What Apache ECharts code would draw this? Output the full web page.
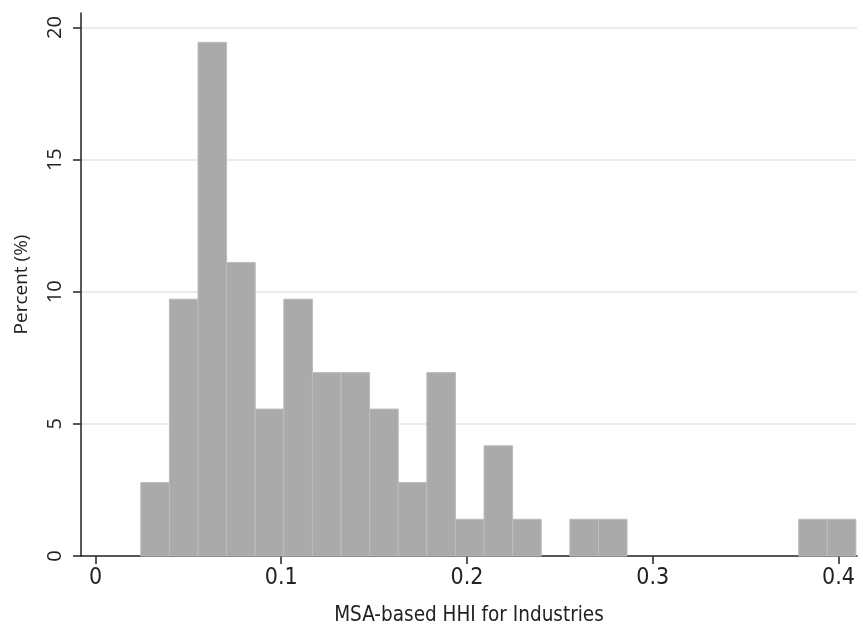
<!DOCTYPE html>
<html>
<head>
<meta charset="utf-8">
<script src="https://cdn.jsdelivr.net/npm/echarts@6/dist/echarts.min.js"></script>
<style>html,body{margin:0;padding:0;background:#fff}#c{width:863px;height:625px}</style>
</head>
<body>
<div id="c"></div>
<script>
// Histogram bins (left edge of each non-empty bin) and percent of observations
const binStarts = [0.0244, 0.0398, 0.0552, 0.0706, 0.0860, 0.1014, 0.1168, 0.1322, 0.1476, 0.1630, 0.1784, 0.1938, 0.2092, 0.2246, 0.2554, 0.2708, 0.3786, 0.3940];
const percents  = [2.78, 9.72, 19.44, 11.11, 5.56, 9.72, 6.94, 6.94, 5.56, 2.78, 6.94, 1.39, 4.17, 1.39, 1.39, 1.39, 1.39, 1.39];
const binWidth = 0.0154;
const xTicks = [0, 0.1, 0.2, 0.3, 0.4];
const yTicks = [0, 5, 10, 15, 20];
const gridYValues = [5, 10, 15, 20];

const narrow = "'Liberation Sans Narrow', 'DejaVu Sans Condensed', 'Roboto Condensed', sans-serif";
const wide = "'Open Sans', 'Noto Sans', sans-serif";
const chart = echarts.init(document.getElementById('c'), null, {renderer: 'canvas'});
const data = binStarts.map((s, i) => [s, s + binWidth, percents[i]]);

chart.setOption({
  animation: false,
  grid: {left: 81, right: 6, top: 13, bottom: 69, containLabel: false, outerBoundsMode: 'none'},
  xAxis: {
    type: 'value', min: -0.0078, max: 0.41,
    name: 'MSA-based HHI for Industries', nameLocation: 'middle', nameGap: 49, nameMoveOverlap: false,
    nameTextStyle: {fontFamily: narrow, fontSize: 20.5, color: '#222'},
    axisLine: {show: true, onZero: false, lineStyle: {color: '#222', width: 1.5}},
    axisTick: {show: true, length: 8, customValues: xTicks, lineStyle: {color: '#222', width: 1.5}},
    axisLabel: {customValues: xTicks, margin: 11, fontFamily: narrow, fontSize: 23, color: '#222',
      formatter: v => (xTicks.some(t => Math.abs(t - v) < 1e-9) ? String(v) : '')},
    splitLine: {show: false}
  },
  yAxis: {
    type: 'value', min: 0, max: 20.55,
    name: 'Percent (%)', nameLocation: 'middle', nameGap: 50, nameMoveOverlap: false,
    nameTextStyle: {fontFamily: wide, fontSize: 19, color: '#222'},
    axisLine: {show: true, onZero: false, lineStyle: {color: '#222', width: 1.5}},
    axisTick: {show: true, length: 8, customValues: yTicks, lineStyle: {color: '#222', width: 1.5}},
    axisLabel: {customValues: yTicks, rotate: 90, margin: 16, fontFamily: wide, fontSize: 20, color: '#222',
      formatter: v => (yTicks.includes(v) ? String(v) : '')},
    splitLine: {show: false}
  },
  series: [{
    type: 'custom',
    data: data,
    encode: {x: [0, 1], y: 2},
    renderItem: function (params, api) {
      const p0 = api.coord([api.value(0), api.value(2)]);
      const p1 = api.coord([api.value(1), 0]);
      return {
        type: 'rect',
        shape: {x: p0[0], y: p0[1], width: p1[0] - p0[0], height: p1[1] - p0[1]},
        style: {fill: '#aaaaaa', stroke: '#bdbdbd', lineWidth: 1}
      };
    },
    markLine: {
      silent: true, symbol: 'none', z: -1,
      label: {show: false},
      lineStyle: {color: '#ececec', width: 2, type: 'solid'},
      data: gridYValues.map(v => ({yAxis: v}))
    },
    z: 2
  }]
});
</script>
</body>
</html>
